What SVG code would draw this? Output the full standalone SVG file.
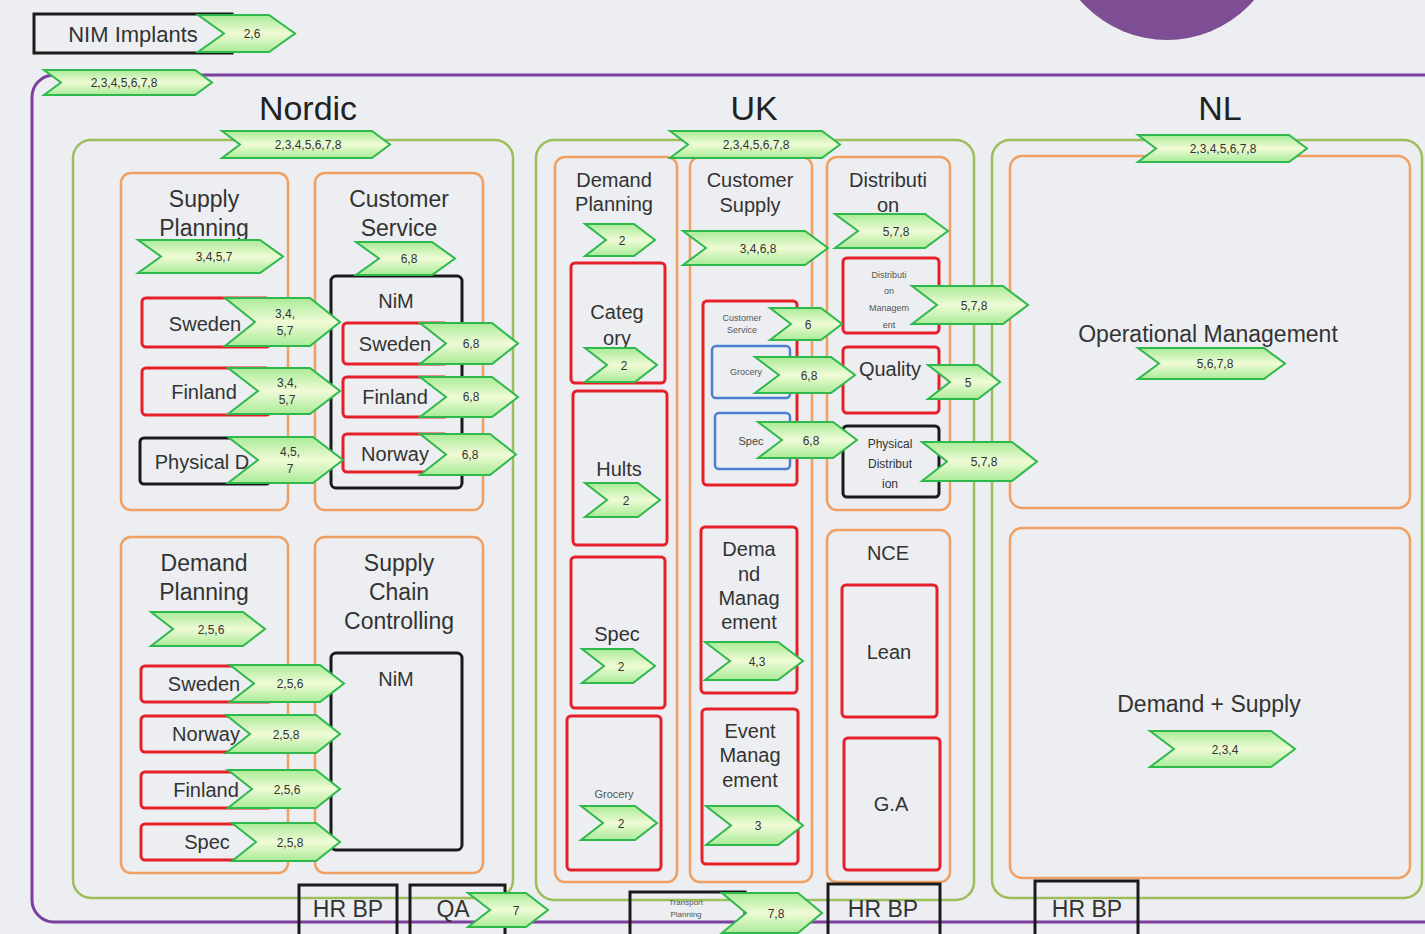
<svg xmlns="http://www.w3.org/2000/svg" width="1425" height="934" viewBox="0 0 1425 934">
<defs>
<linearGradient id="cg" x1="0" y1="0" x2="0" y2="1">
<stop offset="0" stop-color="#a9eb98"/>
<stop offset="0.5" stop-color="#f0fbd6"/>
<stop offset="1" stop-color="#a9eb98"/>
</linearGradient>
</defs>
<style>
text{font-family:"Liberation Sans",Arial,sans-serif;fill:#333;text-anchor:middle}
.title{font-size:34px;fill:#222}
.h{font-size:23px}
.uh{font-size:20px}
.l{font-size:20px}
.s{font-size:9px;fill:#555}
.ct{font-size:12px;fill:#333}
.purple{fill:none;stroke:#7b3fa0;stroke-width:3}
.green{fill:none;stroke:#9cbf5c;stroke-width:2.5}
.orange{fill:none;stroke:#f0a062;stroke-width:2.5}
.red{fill:none;stroke:#e5202b;stroke-width:3}
.blue{fill:none;stroke:#4a7fd0;stroke-width:2.5}
.black{fill:none;stroke:#1a1a1a;stroke-width:3}
.chev{fill:url(#cg);stroke:#2fb84c;stroke-width:2;stroke-linejoin:miter}
</style>
<rect x="0" y="0" width="1425" height="934" fill="#eceef1"/>
<circle cx="1167" cy="-75" r="115" fill="#7d4e93"/>

<g id="nim-implants"><rect x="34" y="14" width="198" height="39" class="black"/><text x="133" y="42" style="font-size:22px">NIM Implants</text></g>
<g id="org"><rect x="32" y="75" width="1420" height="847" rx="22" class="purple"/></g>
<text class="title" x="308" y="120">Nordic</text>
<text class="title" x="754" y="120">UK</text>
<text class="title" x="1220" y="120">NL</text>

<g id="nordic"><rect x="73" y="140" width="440" height="758" rx="18" class="green"/></g>
<g id="uk"><rect x="536" y="140" width="438" height="760" rx="18" class="green"/></g>
<g id="nl"><rect x="992" y="140" width="430" height="758" rx="18" class="green"/></g>

<g id="nordic-supply-planning"><rect x="121" y="173" width="167" height="337" rx="10" class="orange"/><text class="h" x="204" y="207">Supply</text><text class="h" x="204" y="236">Planning</text></g>
<g id="nsp-sweden"><rect x="142" y="298" width="128" height="49" rx="4" class="red"/><text class="l" x="205" y="331">Sweden</text></g>
<g id="nsp-finland"><rect x="142" y="368" width="128" height="47" rx="4" class="red"/><text class="l" x="204" y="399">Finland</text></g>
<g id="nsp-physical"><rect x="140" y="438" width="130" height="46" rx="4" class="black"/><text class="l" x="202" y="469">Physical D</text></g>

<g id="nordic-customer-service"><rect x="315" y="173" width="168" height="337" rx="10" class="orange"/><text class="h" x="399" y="207">Customer</text><text class="h" x="399" y="236">Service</text></g>
<g id="ncs-nim"><rect x="331" y="276" width="131" height="212" rx="5" class="black"/><text class="l" x="396" y="308">NiM</text></g>
<g id="ncs-sweden"><rect x="343" y="323" width="105" height="41" rx="4" class="red"/><text class="l" x="395" y="351">Sweden</text></g>
<g id="ncs-finland"><rect x="343" y="377" width="105" height="40" rx="4" class="red"/><text class="l" x="395" y="404">Finland</text></g>
<g id="ncs-norway"><rect x="343" y="434" width="105" height="38" rx="4" class="red"/><text class="l" x="395" y="461">Norway</text></g>

<g id="nordic-demand-planning"><rect x="121" y="537" width="167" height="336" rx="10" class="orange"/><text class="h" x="204" y="571">Demand</text><text class="h" x="204" y="600">Planning</text></g>
<g id="ndp-sweden"><rect x="141" y="666" width="131" height="36" rx="4" class="red"/><text class="l" x="204" y="691">Sweden</text></g>
<g id="ndp-norway"><rect x="141" y="716" width="131" height="36" rx="4" class="red"/><text class="l" x="206" y="741">Norway</text></g>
<g id="ndp-finland"><rect x="141" y="772" width="131" height="36" rx="4" class="red"/><text class="l" x="206" y="797">Finland</text></g>
<g id="ndp-spec"><rect x="141" y="824" width="131" height="36" rx="4" class="red"/><text class="l" x="207" y="849">Spec</text></g>

<g id="nordic-scc"><rect x="315" y="537" width="168" height="336" rx="10" class="orange"/><text class="h" x="399" y="571">Supply</text><text class="h" x="399" y="600">Chain</text><text class="h" x="399" y="629">Controlling</text></g>
<g id="nscc-nim"><rect x="331" y="653" width="131" height="197" rx="5" class="black"/><text class="l" x="396" y="686">NiM</text></g>

<g id="nordic-hrbp"><rect x="299" y="885" width="98" height="52" class="black"/><text class="h" x="348" y="917">HR BP</text></g>
<g id="nordic-qa"><rect x="410" y="885" width="95" height="52" class="black"/><text class="h" x="453" y="917">QA</text></g>

<g id="uk-demand-planning"><rect x="555" y="157" width="122" height="725" rx="10" class="orange"/><text class="uh" x="614" y="187">Demand</text><text class="uh" x="614" y="211">Planning</text></g>
<g id="uk-category"><rect x="571" y="263" width="94" height="120" rx="4" class="red"/><text class="l" x="617" y="319">Categ</text><text class="l" x="617" y="345">ory</text></g>
<g id="uk-hults"><rect x="573" y="391" width="94" height="154" rx="4" class="red"/><text class="l" x="619" y="476">Hults</text></g>
<g id="uk-spec"><rect x="571" y="557" width="94" height="151" rx="4" class="red"/><text class="l" x="617" y="641">Spec</text></g>
<g id="uk-grocery"><rect x="567" y="716" width="94" height="154" rx="4" class="red"/><text x="614" y="798" style="font-size:11px;fill:#555">Grocery</text></g>

<g id="uk-customer-supply"><rect x="690" y="157" width="122" height="725" rx="10" class="orange"/><text class="uh" x="750" y="187">Customer</text><text class="uh" x="750" y="212">Supply</text></g>
<g id="ucs-customer-service"><rect x="703" y="301" width="94" height="184" rx="4" class="red"/><text class="s" x="742" y="321">Customer</text><text class="s" x="742" y="333">Service</text></g>
<g id="ucs-grocery"><rect x="712" y="346" width="78" height="52" rx="4" class="blue"/><text class="s" x="746" y="375">Grocery</text></g>
<g id="ucs-spec"><rect x="715" y="413" width="75" height="56" rx="4" class="blue"/><text x="751" y="445" style="font-size:11px;fill:#444">Spec</text></g>
<g id="ucs-demand-management"><rect x="701" y="527" width="96" height="166" rx="4" class="red"/><text class="l" x="749" y="556">Dema</text><text class="l" x="749" y="581">nd</text><text class="l" x="749" y="605">Manag</text><text class="l" x="749" y="629">ement</text></g>
<g id="ucs-event-management"><rect x="702" y="709" width="96" height="155" rx="4" class="red"/><text class="l" x="750" y="738">Event</text><text class="l" x="750" y="762">Manag</text><text class="l" x="750" y="787">ement</text></g>

<g id="uk-distribution"><rect x="827" y="157" width="123" height="353" rx="10" class="orange"/><text class="uh" x="888" y="187">Distributi</text><text class="uh" x="888" y="212">on</text></g>
<g id="ud-distribution-management"><rect x="843" y="258" width="96" height="75" rx="4" class="red"/><text class="s" x="889" y="278">Distributi</text><text class="s" x="889" y="294">on</text><text class="s" x="889" y="311">Managem</text><text class="s" x="889" y="328">ent</text></g>
<g id="ud-quality"><rect x="843" y="347" width="96" height="66" rx="4" class="red"/><text class="l" x="890" y="376">Quality</text></g>
<g id="ud-physical-distribution"><rect x="843" y="426" width="96" height="71" rx="4" class="black"/><text class="ct" x="890" y="448">Physical</text><text class="ct" x="890" y="468">Distribut</text><text class="ct" x="890" y="488">ion</text></g>

<g id="uk-nce"><rect x="827" y="530" width="123" height="352" rx="10" class="orange"/><text class="uh" x="888" y="560">NCE</text></g>
<g id="nce-lean"><rect x="842" y="585" width="95" height="132" rx="4" class="red"/><text class="l" x="889" y="659">Lean</text></g>
<g id="nce-ga"><rect x="844" y="738" width="96" height="132" rx="4" class="red"/><text class="l" x="891" y="811">G.A</text></g>

<g id="uk-transport-planning"><rect x="630" y="892" width="115" height="45" class="black"/><text x="686" y="905" style="font-size:8px;fill:#555">Transport</text><text x="686" y="917" style="font-size:8px;fill:#555">Planning</text></g>
<g id="uk-hrbp"><rect x="828" y="884" width="112" height="53" class="black"/><text class="h" x="883" y="917">HR BP</text></g>

<g id="nl-operational-management"><rect x="1010" y="156" width="400" height="352" rx="12" class="orange"/><text class="h" x="1208" y="342">Operational Management</text></g>
<g id="nl-demand-supply"><rect x="1010" y="528" width="400" height="350" rx="12" class="orange"/><text class="h" x="1209" y="712">Demand + Supply</text></g>
<g id="nl-hrbp"><rect x="1035" y="881" width="103" height="56" class="black"/><text class="h" x="1087" y="917">HR BP</text></g>

<g id="connectors"></g>

<g id="tags">
<g id="tag-nim-implants"><polygon class="chev" points="198,15 269,15 295,33.5 269,52 198,52 224,33.5"/><text class="ct" x="252" y="38">2,6</text></g>
<g id="tag-org"><polygon class="chev" points="44,70 195,70 212,82.5 195,95 44,95 61,82.5"/><text class="ct" x="124" y="87">2,3,4,5,6,7,8</text></g>
<g id="tag-nordic"><polygon class="chev" points="222,131 372,131 390,144.5 372,158 222,158 240,144.5"/><text class="ct" x="308" y="149">2,3,4,5,6,7,8</text></g>
<g id="tag-uk"><polygon class="chev" points="670,131 822,131 840,144.5 822,158 670,158 688,144.5"/><text class="ct" x="756" y="149">2,3,4,5,6,7,8</text></g>
<g id="tag-nl"><polygon class="chev" points="1138,135 1289,135 1307,148.5 1289,162 1138,162 1156,148.5"/><text class="ct" x="1223" y="153">2,3,4,5,6,7,8</text></g>

<g id="tag-nsp"><polygon class="chev" points="138,240 260,240 283,256.5 260,273 138,273 161,256.5"/><text class="ct" x="214" y="261">3,4,5,7</text></g>
<g id="tag-nsp-sweden"><polygon class="chev" points="225,298 310,298 340,322 310,346 225,346 255,322"/><text class="ct" x="285" y="318">3,4,</text><text class="ct" x="285" y="335">5,7</text></g>
<g id="tag-nsp-finland"><polygon class="chev" points="228,368 310,368 340,391 310,414 228,414 258,391"/><text class="ct" x="287" y="387">3,4,</text><text class="ct" x="287" y="404">5,7</text></g>
<g id="tag-nsp-physical"><polygon class="chev" points="228,437 313,437 343,460 313,483 228,483 258,460"/><text class="ct" x="290" y="456">4,5,</text><text class="ct" x="290" y="473">7</text></g>

<g id="tag-ncs"><polygon class="chev" points="356,242 432,242 455,258.5 432,275 356,275 379,258.5"/><text class="ct" x="409" y="263">6,8</text></g>
<g id="tag-ncs-sweden"><polygon class="chev" points="420,323 492,323 518,343.5 492,364 420,364 446,343.5"/><text class="ct" x="471" y="348">6,8</text></g>
<g id="tag-ncs-finland"><polygon class="chev" points="420,377 492,377 518,397 492,417 420,417 446,397"/><text class="ct" x="471" y="401">6,8</text></g>
<g id="tag-ncs-norway"><polygon class="chev" points="420,434 490,434 516,454.5 490,475 420,475 446,454.5"/><text class="ct" x="470" y="459">6,8</text></g>

<g id="tag-ndp"><polygon class="chev" points="151,612 243,612 265,629 243,646 151,646 173,629"/><text class="ct" x="211" y="634">2,5,6</text></g>
<g id="tag-ndp-sweden"><polygon class="chev" points="230,665 320,665 344,683.5 320,702 230,702 254,683.5"/><text class="ct" x="290" y="688">2,5,6</text></g>
<g id="tag-ndp-norway"><polygon class="chev" points="226,715 316,715 340,734 316,753 226,753 250,734"/><text class="ct" x="286" y="739">2,5,8</text></g>
<g id="tag-ndp-finland"><polygon class="chev" points="228,770 316,770 340,789 316,808 228,808 252,789"/><text class="ct" x="287" y="794">2,5,6</text></g>
<g id="tag-ndp-spec"><polygon class="chev" points="232,823 316,823 340,842 316,861 232,861 256,842"/><text class="ct" x="290" y="847">2,5,8</text></g>
<g id="tag-qa"><polygon class="chev" points="468,893 526,893 548,910 526,927 468,927 490,910"/><text class="ct" x="516" y="915">7</text></g>

<g id="tag-udp"><polygon class="chev" points="585,224 634,224 655,240 634,256 585,256 606,240"/><text class="ct" x="622" y="245">2</text></g>
<g id="tag-category"><polygon class="chev" points="585,348 635,348 657,365 635,382 585,382 607,365"/><text class="ct" x="624" y="370">2</text></g>
<g id="tag-hults"><polygon class="chev" points="585,483 638,483 660,500 638,517 585,517 607,500"/><text class="ct" x="626" y="505">2</text></g>
<g id="tag-spec"><polygon class="chev" points="582,649 633,649 655,666 633,683 582,683 604,666"/><text class="ct" x="621" y="671">2</text></g>
<g id="tag-grocery"><polygon class="chev" points="581,806 635,806 657,823 635,840 581,840 603,823"/><text class="ct" x="621" y="828">2</text></g>

<g id="tag-ucs"><polygon class="chev" points="683,231 805,231 828,248 805,265 683,265 706,248"/><text class="ct" x="758" y="253">3,4,6,8</text></g>
<g id="tag-ucs-customer-service"><polygon class="chev" points="770,308 821,308 842,324 821,340 770,340 791,324"/><text class="ct" x="808" y="329">6</text></g>
<g id="tag-ucs-grocery"><polygon class="chev" points="755,357 831,357 855,375 831,393 755,393 779,375"/><text class="ct" x="809" y="380">6,8</text></g>
<g id="tag-ucs-spec"><polygon class="chev" points="758,422 833,422 857,440 833,458 758,458 782,440"/><text class="ct" x="811" y="445">6,8</text></g>
<g id="tag-ucs-demand"><polygon class="chev" points="705,642 778,642 803,661 778,680 705,680 730,661"/><text class="ct" x="757" y="666">4,3</text></g>
<g id="tag-ucs-event"><polygon class="chev" points="706,806 778,806 803,825.5 778,845 706,845 731,825.5"/><text class="ct" x="758" y="830">3</text></g>

<g id="tag-ud"><polygon class="chev" points="835,214 925,214 948,231 925,248 835,248 858,231"/><text class="ct" x="896" y="236">5,7,8</text></g>
<g id="tag-ud-management"><polygon class="chev" points="912,286 1003,286 1028,305 1003,324 912,324 937,305"/><text class="ct" x="974" y="310">5,7,8</text></g>
<g id="tag-ud-quality"><polygon class="chev" points="928,365 978,365 1000,382 978,399 928,399 950,382"/><text class="ct" x="968" y="387">5</text></g>
<g id="tag-ud-physical"><polygon class="chev" points="922,442 1012,442 1037,461.5 1012,481 922,481 947,461.5"/><text class="ct" x="984" y="466">5,7,8</text></g>
<g id="tag-transport"><polygon class="chev" points="722,893 798,893 822,913 798,933 722,933 746,913"/><text class="ct" x="776" y="918">7,8</text></g>

<g id="tag-nl-om"><polygon class="chev" points="1138,348 1264,348 1285,363.5 1264,379 1138,379 1159,363.5"/><text class="ct" x="1215" y="368">5,6,7,8</text></g>
<g id="tag-nl-ds"><polygon class="chev" points="1150,731 1271,731 1295,749 1271,767 1150,767 1174,749"/><text class="ct" x="1225" y="754">2,3,4</text></g>
</g>
</svg>
